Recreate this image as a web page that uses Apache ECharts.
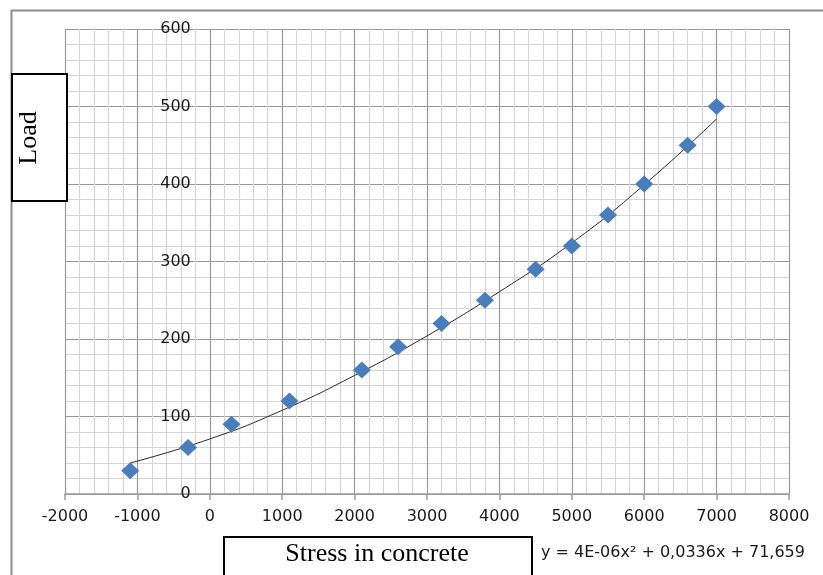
<!DOCTYPE html>
<html>
<head>
<meta charset="utf-8">
<script src="https://cdn.jsdelivr.net/npm/echarts@6/dist/echarts.min.js"></script>
<style>
html,body{margin:0;padding:0;background:#fff;}
#chart{width:823px;height:575px;}
</style>
</head>
<body>
<div id="chart"></div>
<script>
// Measured points: stress in concrete (x) vs load (y)
var stressValues = [-1100, -300, 300, 1100, 2100, 2600, 3200, 3800, 4500, 5000, 5500, 6000, 6600, 7000];
var loadValues   = [30, 60, 90, 120, 160, 190, 220, 250, 290, 320, 360, 400, 450, 500];
// Trendline
var trendX = [-1100, 0, 1000, 2000, 3000, 4000, 5000, 6000, 7000];
var trendY = [40, 71, 108, 153, 204, 261, 324, 399, 484];
var xTicks = [-2000, -1000, 0, 1000, 2000, 3000, 4000, 5000, 6000, 7000, 8000];
var yTicks = [0, 100, 200, 300, 400, 500, 600];
var yTitle = 'Load';
var xTitle = 'Stress in concrete';
var equation = 'y = 4E-06x² + 0,0336x + 71,659';

var W = 823, GL = 65, GR = 34;
var xMin = xTicks[0], xMax = xTicks[xTicks.length - 1];
// place the y axis where x = 0, as in the reference
var yAxisOffset = -((0 - xMin) / (xMax - xMin)) * (W - GL - GR);

var chart = echarts.init(document.getElementById('chart'), null, {renderer: 'canvas'});
var scatterData = stressValues.map(function (v, i) { return [v, loadValues[i]]; });
var trendData = trendX.map(function (v, i) { return [v, trendY[i]]; });
function plain(v) { return String(v); }

var option = {
  animation: false,
  backgroundColor: '#ffffff',
  grid: {left: GL, right: GR, top: 29, bottom: 81, containLabel: false},
  xAxis: {
    type: 'value',
    min: xMin, max: xMax, interval: 1000,
    axisLine: {show: true, onZero: false, lineStyle: {color: '#9a9a9a', width: 1.5}},
    axisTick: {show: true, length: 6, lineStyle: {color: '#9a9a9a', width: 1.5}},
    axisLabel: {margin: 15, color: '#1a1a1a', fontFamily: 'DejaVu Sans', fontSize: 16, formatter: plain},
    splitLine: {show: true, lineStyle: {color: '#9a9a9a', width: 1.2}},
    minorTick: {show: false, splitNumber: 5},
    minorSplitLine: {show: true, lineStyle: {color: '#d6d6d6', width: 1.2}}
  },
  yAxis: {
    type: 'value',
    position: 'left',
    offset: yAxisOffset,
    min: yTicks[0], max: yTicks[yTicks.length - 1], interval: 100,
    axisLine: {show: false, onZero: false},
    axisTick: {show: false},
    axisLabel: {margin: 19, color: '#1a1a1a', fontFamily: 'DejaVu Sans', fontSize: 16, formatter: plain},
    splitLine: {show: true, lineStyle: {color: '#9a9a9a', width: 1.2}},
    minorTick: {show: false, splitNumber: 5},
    minorSplitLine: {show: true, lineStyle: {color: '#d6d6d6', width: 1.2}}
  },
  series: [
    {
      type: 'line',
      data: trendData,
      smooth: true,
      showSymbol: false,
      symbol: 'none',
      lineStyle: {color: '#2a2a2a', width: 1},
      z: 3
    },
    {
      type: 'scatter',
      data: scatterData,
      symbol: 'diamond',
      symbolSize: [18, 17],
      itemStyle: {color: '#4a7ebb', opacity: 1},
      z: 4
    }
  ],
  graphic: [
    {type: 'rect', left: 9, top: 8, shape: {width: 830, height: 600},
     style: {fill: 'none', stroke: '#8c8c8c', lineWidth: 2}, z: 10, silent: true},
    {type: 'rect', left: 11, top: 73, shape: {width: 55, height: 127},
     style: {fill: '#ffffff', stroke: '#000000', lineWidth: 2}, z: 11},
    {type: 'text', x: 29, y: 138, rotation: Math.PI / 2,
     style: {text: yTitle, fontFamily: 'Liberation Serif', fontSize: 26, fill: '#000',
             align: 'center', verticalAlign: 'middle'}, z: 12},
    {type: 'rect', left: 223, top: 536, shape: {width: 308, height: 60},
     style: {fill: '#ffffff', stroke: '#000000', lineWidth: 2}, z: 11},
    {type: 'text', x: 377, y: 554,
     style: {text: xTitle, fontFamily: 'Liberation Serif', fontSize: 26, fill: '#000',
             align: 'center', verticalAlign: 'middle'}, z: 12},
    {type: 'text', x: 541, y: 553,
     style: {text: equation, fontFamily: 'DejaVu Sans', fontSize: 16, fill: '#1a1a1a',
             align: 'left', verticalAlign: 'middle'}, z: 12}
  ]
};
chart.setOption(option);
</script>
</body>
</html>
